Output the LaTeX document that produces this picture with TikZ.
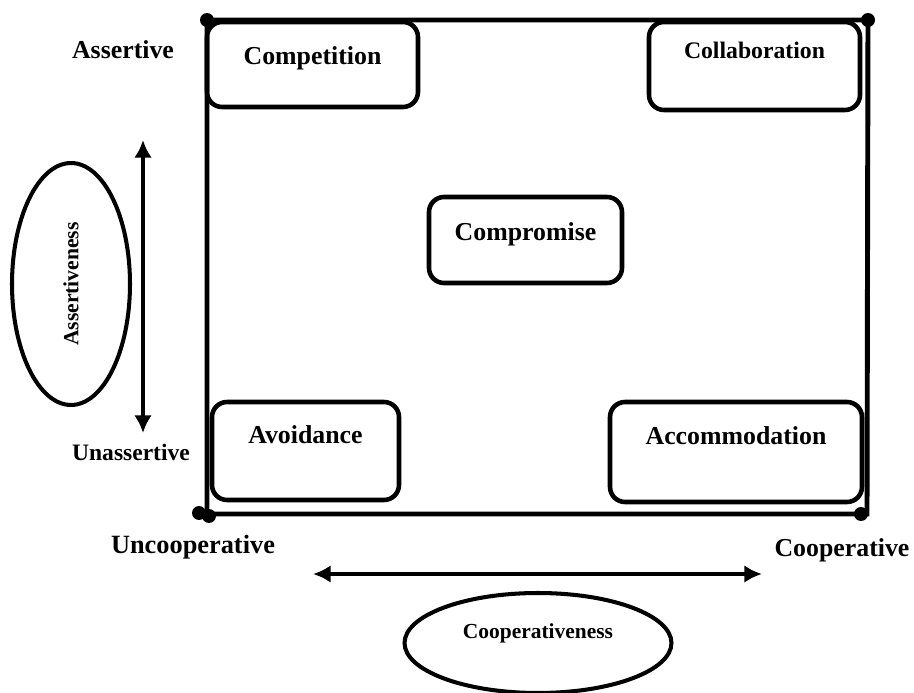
\documentclass[tikz,border=0pt]{standalone}
\usepackage{fontspec}
\setmainfont{Liberation Serif}
\usepackage{tikz}
\usetikzlibrary{shapes.geometric, arrows.meta, positioning}

\begin{document}
\begin{tikzpicture}[
    x=0.02cm, y=-0.02cm,
    style_box/.style={rectangle, draw=black, line width=2.6pt, rounded corners=0.3cm, text height=12pt, font=\fontsize{14.7}{17}\selectfont\bfseries},
    style_oval/.style={ellipse, draw=black, line width=2.3pt, inner sep=0pt},
    axis_lbl/.style={anchor=base, font=\fontsize{14.7}{17}\selectfont\bfseries},
    dot/.style={circle, fill=black, inner sep=0pt, minimum size=0.28cm},
    line/.style={draw=black, line width=2.3pt, {Latex[length=10pt,width=10pt]}-{Latex[length=10pt,width=10pt]}}
]
\useasboundingbox (0,0) rectangle (914,693);

% Outer frame with corner dots
\coordinate (tl) at (207,20);
\coordinate (tr) at (868,20);
\coordinate (br) at (867,514);
\coordinate (bl) at (207,514);
\draw [line width=2.8pt] (tl) -- (tr) -- (br) -- (bl) -- cycle;
\node [dot] (dtl) at (tl) {};
\node [dot] (dtr) at (tr) {};
\node [dot] (dbl) at (199,513) {};
\node [dot] (dbla) at (209,516) {};
\node [dot] (dbr) at (861,514) {};

% Conflict styles
\node [style_box, minimum width=4.22cm, minimum height=1.7cm, text depth=12pt] (comp) at (312.5,64.5) {Competition};
\node [style_box, minimum width=4.22cm, minimum height=1.76cm, text depth=20pt, font=\fontsize{13.5}{16}\selectfont\bfseries] (collab) at (754.5,66) {Collaboration};
\node [style_box, minimum width=3.86cm, minimum height=1.72cm, text depth=11pt] (compro) at (525.5,240) {Compromise};
\node [style_box, minimum width=3.74cm, minimum height=1.96cm, text depth=21pt] (avoid) at (305.5,451) {Avoidance};
\node [style_box, minimum width=5.04cm, minimum height=2.0cm, text depth=21pt] (accom) at (736,452) {Accommodation};

% Axis labels
\node [axis_lbl] (asrt) at (123,58) {Assertive};
\node [axis_lbl, font=\fontsize{13.4}{16}\selectfont\bfseries] (unasrt) at (131,460) {Unassertive};
\node [axis_lbl, font=\fontsize{15}{17}\selectfont\bfseries] (uncoop) at (193,553) {Uncooperative};
\node [axis_lbl] (coop) at (842,556) {Cooperative};

% Axes
\coordinate (vtop) at (143,140);
\coordinate (vbot) at (143,433);
\coordinate (hleft) at (313,574);
\coordinate (hright) at (762,574);
\path [line] (vtop) -- (vbot);
\path [line] (hleft) -- (hright);

% Axis names
\node [style_oval, minimum width=4.84cm, minimum height=2.36cm, rotate=90, font=\fontsize{12.3}{14}\selectfont\bfseries] (asrtness) at (71,284) {Assertiveness};
\node [style_oval, minimum width=5.34cm, minimum height=2.0cm, text height=9pt, text depth=14.6pt, font=\fontsize{12.2}{14}\selectfont\bfseries] (coopness) at (538,643) {Cooperativeness};

\end{tikzpicture}
\end{document}
